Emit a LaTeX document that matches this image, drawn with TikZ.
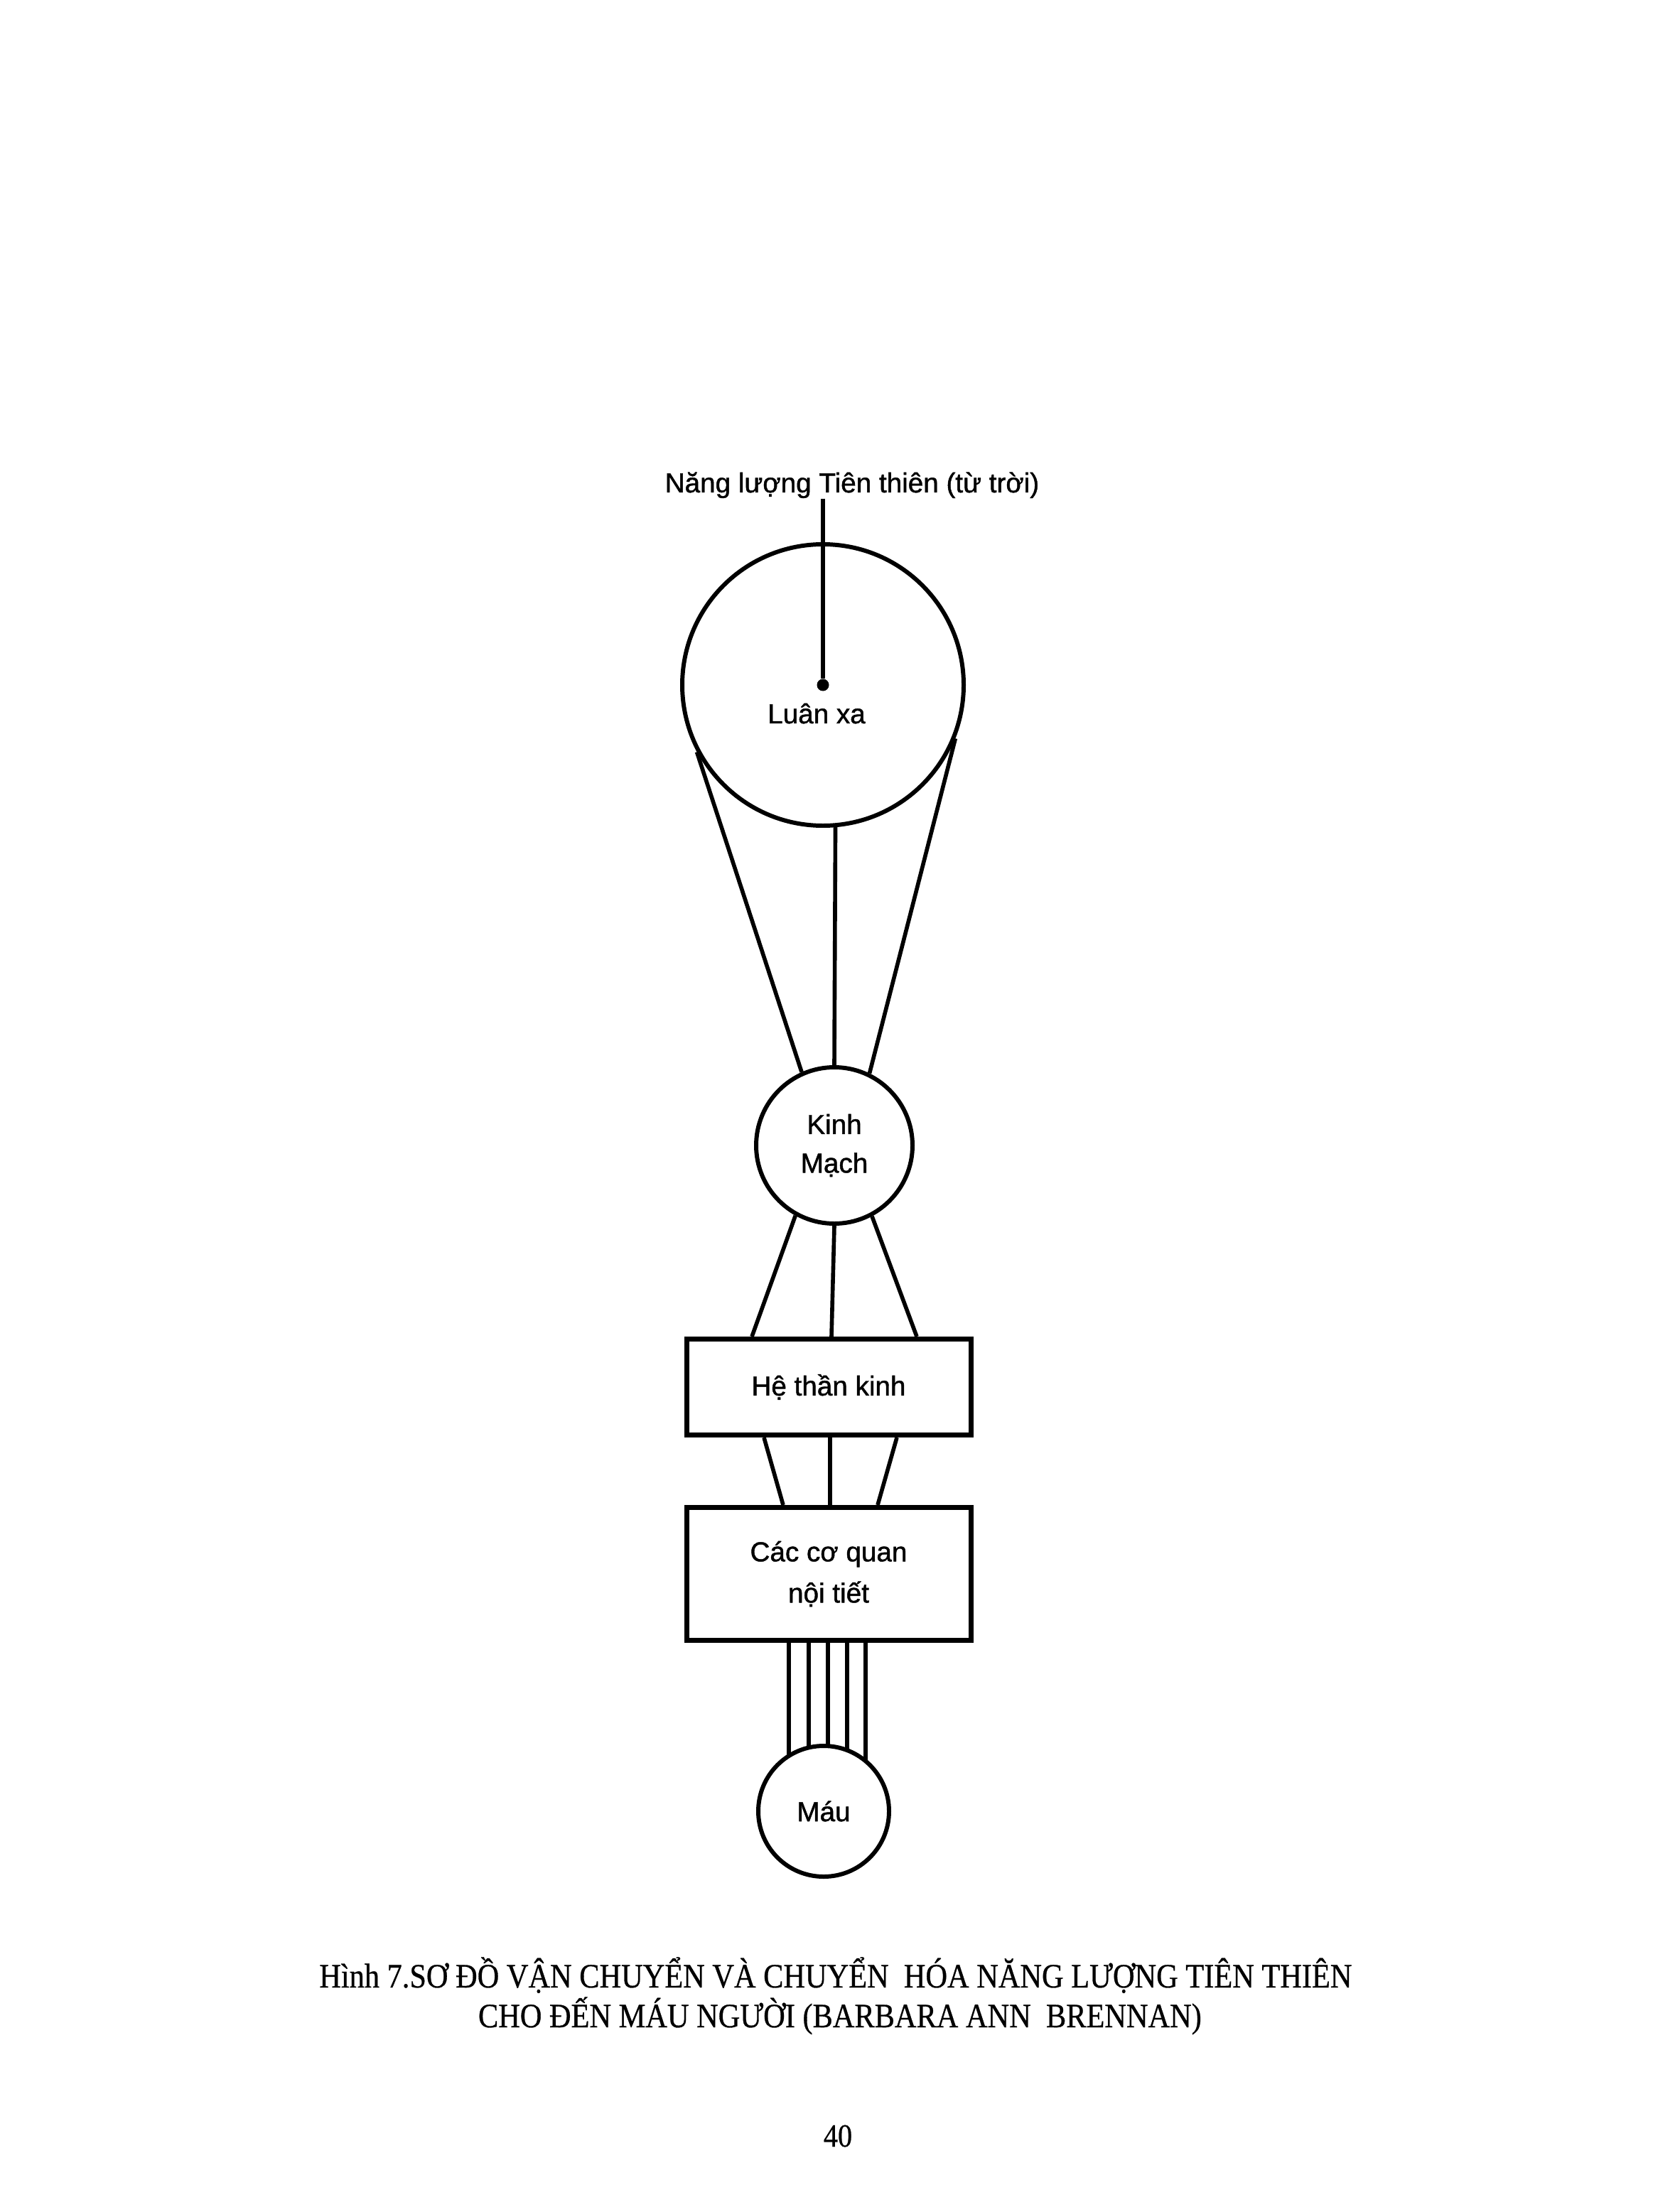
\documentclass[tikz,border=0pt]{standalone}
\usepackage{fontspec}
\setmainfont{Liberation Serif}
\newfontfamily\labelfont[FakeBold=1.2]{Liberation Sans}
\newfontfamily\captionfont[FakeStretch=0.88,FakeBold=0.6]{Liberation Serif}

\tikzset{
  lettering/.style={inner sep=0pt, font=\labelfont\fontsize{11}{15}\selectfont},
  disc/.style={circle, draw, line width=1.7pt, inner sep=0pt, align=center,
    font=\labelfont\fontsize{11}{15.5}\selectfont},
  box/.style={rectangle, draw, line width=2pt, minimum width=4.0cm, align=center,
    font=\labelfont\fontsize{11}{16.5}\selectfont},
  wire/.style={line width=1.6pt},
  dot/.style={circle, fill, inner sep=0pt, minimum size=0.17cm},
  caption/.style={inner sep=0pt, anchor=base, font=\captionfont\fontsize{13.7}{16}\selectfont}
}

\begin{document}
\begin{tikzpicture}
  \useasboundingbox (0,0) rectangle (23.63,-31.13);

  % nodes, top to bottom
  \node[lettering, anchor=base] (nangluong) at (11.99,-6.93) {Năng lượng Tiên thiên (từ trời)};
  \node[disc, minimum size=3.96cm] (luanxa) at (11.58,-9.64) {};
  \node[dot] (tam) at (luanxa.center) {};
  \node[lettering, anchor=base] (luanxalabel) at (11.49,-10.18) {Luân xa};
  \node[disc, minimum size=2.2cm] (kinhmach) at (11.74,-16.12) {Kinh\\Mạch};
  \node[box, minimum height=1.35cm] (hethankinh) at (11.66,-19.52) {Hệ thần kinh};
  \node[box, minimum height=1.87cm] (noitiet) at (11.66,-22.15) {Các cơ quan\\nội tiết};
  \coordinate (maucentre) at (11.59,-25.49);

  % connectors
  \draw[wire] (tam.center |- nangluong.south) -- (tam);
  \draw[wire] (luanxa.208) -- (kinhmach.114);
  \draw[wire] (luanxa.275) -- (kinhmach.north);
  \draw[wire] (luanxa.338) -- (kinhmach.64);
  \draw[wire] (kinhmach.241) -- ([xshift=-1.08cm]hethankinh.north);
  \draw[wire] (kinhmach.south) -- ([xshift=0.04cm]hethankinh.north);
  \draw[wire] (kinhmach.298) -- ([xshift=1.24cm]hethankinh.north);
  \foreach \a/\b in {-0.91/-0.64, 0.02/0.02, 0.96/0.69}
    \draw[wire] ([xshift=\a cm]hethankinh.south) -- ([xshift=\b cm]noitiet.north);
  \foreach \x in {-0.56,-0.28,-0.01,0.26,0.52}
    \draw[wire] ([xshift=\x cm]noitiet.south) -- ([xshift=\x cm]noitiet.south |- maucentre);
  \node[disc, fill=white, minimum size=1.84cm] (mau) at (maucentre) {Máu};

  % caption
  \node[caption] (hinh) at (11.76,-27.97) {Hình 7.SƠ ĐỒ VẬN CHUYỂN VÀ CHUYỂN\ \ HÓA NĂNG LƯỢNG TIÊN THIÊN};
  \node[caption] (tacgia) at (11.82,-28.53) {CHO ĐẾN MÁU NGƯỜI (BARBARA ANN\ \ BRENNAN)};
  \node[caption, font=\captionfont\fontsize{13}{15}\selectfont] (trang) at (11.79,-30.21) {40};
\end{tikzpicture}
\end{document}
